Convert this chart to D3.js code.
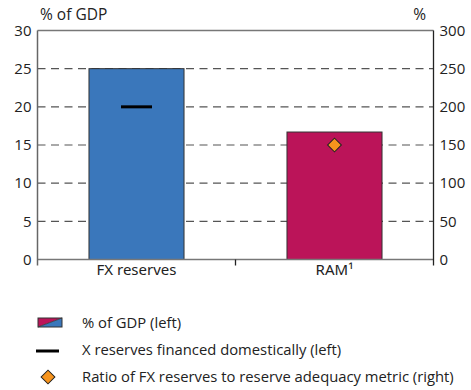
<!DOCTYPE html>
<html><head><meta charset="utf-8">
<script src="https://cdn.jsdelivr.net/npm/d3@7"></script>
<style>body{margin:0;background:#fff}svg{display:block;font-family:"Open Sans","Noto Sans",sans-serif}</style>
</head><body><svg id="c" width="471" height="390"></svg>
<script>
const categories = ["FX reserves", "RAM¹"];
const gdpValues = [25, 16.7];
const barColors = ["#3a77bb", "#bb1459"];
const domesticValues = [20, null];
const ratioValues = [null, 150];
const leftTicks = [0, 5, 10, 15, 20, 25, 30];
const rightTicks = [0, 50, 100, 150, 200, 250, 300];
const legendLabels = ["% of GDP (left)", "X reserves financed domestically (left)", "Ratio of FX reserves to reserve adequacy metric (right)"];

const svg = d3.select("#c");
const L = 37.5, R = 433.5, T = 30.5, B = 259.5;
const x = d3.scaleBand().domain(categories).range([L, R]).paddingInner(0.52).paddingOuter(0.26);
const yL = d3.scaleLinear().domain([0, 30]).range([B, T]);
const yR = d3.scaleLinear().domain([0, 300]).range([B, T]);

// gridlines
svg.append("g").selectAll("line").data(leftTicks.filter(d => d > 0 && d < 30)).join("line")
  .attr("x1", L).attr("x2", R).attr("y1", d => yL(d)).attr("y2", d => yL(d))
  .attr("stroke", "#555").attr("stroke-width", 1.2).attr("stroke-dasharray", "8,5.5");

// bars
svg.append("g").selectAll("rect").data(categories).join("rect")
  .attr("x", d => x(d)).attr("width", x.bandwidth())
  .attr("y", (d, i) => yL(gdpValues[i])).attr("height", (d, i) => yL(0) - yL(gdpValues[i]))
  .attr("fill", (d, i) => barColors[i]).attr("stroke", "#333").attr("stroke-width", 1);

// frame
svg.append("line").attr("x1", L).attr("x2", R).attr("y1", T).attr("y2", T).attr("stroke", "#777").attr("stroke-width", 1.5);
svg.append("line").attr("x1", L).attr("x2", R).attr("y1", B).attr("y2", B).attr("stroke", "#777").attr("stroke-width", 1.5);

// axes
const axL = svg.append("g").attr("transform", `translate(${L},0)`)
  .call(d3.axisLeft(yL).tickValues(leftTicks).tickSize(0).tickPadding(6));
axL.select(".domain").remove();
axL.append("line").attr("x1", 0).attr("x2", 0).attr("y1", T).attr("y2", B + 6).attr("stroke", "#666").attr("stroke-width", 1.5);
const axR = svg.append("g").attr("transform", `translate(${R},0)`)
  .call(d3.axisRight(yR).tickValues(rightTicks).tickSize(0).tickPadding(6));
axR.select(".domain").remove();
axR.append("line").attr("x1", 0).attr("x2", 0).attr("y1", T).attr("y2", B + 6).attr("stroke", "#222").attr("stroke-width", 1.3);
[axL, axR].forEach(a => a.selectAll("text").attr("font-size", 15).attr("fill", "#222").attr("font-family", "Open Sans, Noto Sans, sans-serif"));

const axB = svg.append("g").attr("transform", `translate(0,${B})`)
  .call(d3.axisBottom(x).tickSize(0).tickPadding(5));
axB.select(".domain").remove();
axB.selectAll("text").attr("font-size", 15).attr("fill", "#222").attr("font-family", "Noto Sans, Open Sans, sans-serif");
// separator tick between categories
const mid = (x(categories[0]) + x.bandwidth() + x(categories[1])) / 2;
svg.append("line").attr("x1", mid).attr("x2", mid).attr("y1", B).attr("y2", B + 6).attr("stroke", "#222").attr("stroke-width", 1.3);

// unit labels
svg.append("text").attr("x", 40).attr("y", 20).attr("font-size", 15.5).attr("fill", "#222").text("% of GDP");
svg.append("text").attr("x", 426).attr("y", 20).attr("text-anchor", "end").attr("font-size", 15.5).attr("fill", "#222").text("%");

// domestic dash
svg.append("g").selectAll("line").data(categories.filter((d, i) => domesticValues[i] != null)).join("line")
  .attr("x1", d => x(d) + x.bandwidth() / 2 - 15.5).attr("x2", d => x(d) + x.bandwidth() / 2 + 15.5)
  .attr("y1", d => yL(domesticValues[categories.indexOf(d)])).attr("y2", d => yL(domesticValues[categories.indexOf(d)]))
  .attr("stroke", "#000").attr("stroke-width", 3);

// ratio diamond
svg.append("g").selectAll("path").data(categories.filter((d, i) => ratioValues[i] != null)).join("path")
  .attr("d", d3.symbol().type(d3.symbolSquare).size(95))
  .attr("transform", d => `translate(${x(d) + x.bandwidth() / 2},${yR(ratioValues[categories.indexOf(d)])}) rotate(45)`)
  .attr("fill", "#f7941d").attr("stroke", "#222").attr("stroke-width", 1);

// legend
const lg = svg.append("g").attr("font-size", 14.8).attr("fill", "#222");
const ly = [323, 350, 377];
lg.selectAll("text").data(legendLabels).join("text")
  .attr("x", 82).attr("y", (d, i) => ly[i]).attr("dy", "0.35em").text(d => d);
// swatch
const sx = 38, sy = 318, sw = 24, sh = 9;
lg.append("path").attr("d", `M${sx},${sy}H${sx + sw}L${sx},${sy + sh}Z`).attr("fill", barColors[1]);
lg.append("path").attr("d", `M${sx + sw},${sy}V${sy + sh}H${sx}Z`).attr("fill", barColors[0]);
lg.append("rect").attr("x", sx).attr("y", sy).attr("width", sw).attr("height", sh).attr("fill", "none").attr("stroke", "#333").attr("stroke-width", 1);
lg.append("line").attr("x1", sx).attr("y1", sy + sh).attr("x2", sx + sw).attr("y2", sy).attr("stroke", "#333").attr("stroke-width", 0.8);
lg.append("line").attr("x1", 36).attr("x2", 59).attr("y1", 351).attr("y2", 351).attr("stroke", "#000").attr("stroke-width", 3);
lg.append("path").attr("d", d3.symbol().type(d3.symbolSquare).size(95)).attr("transform", "translate(48,377) rotate(45)")
  .attr("fill", "#f7941d").attr("stroke", "#222").attr("stroke-width", 1);
</script></body></html>
